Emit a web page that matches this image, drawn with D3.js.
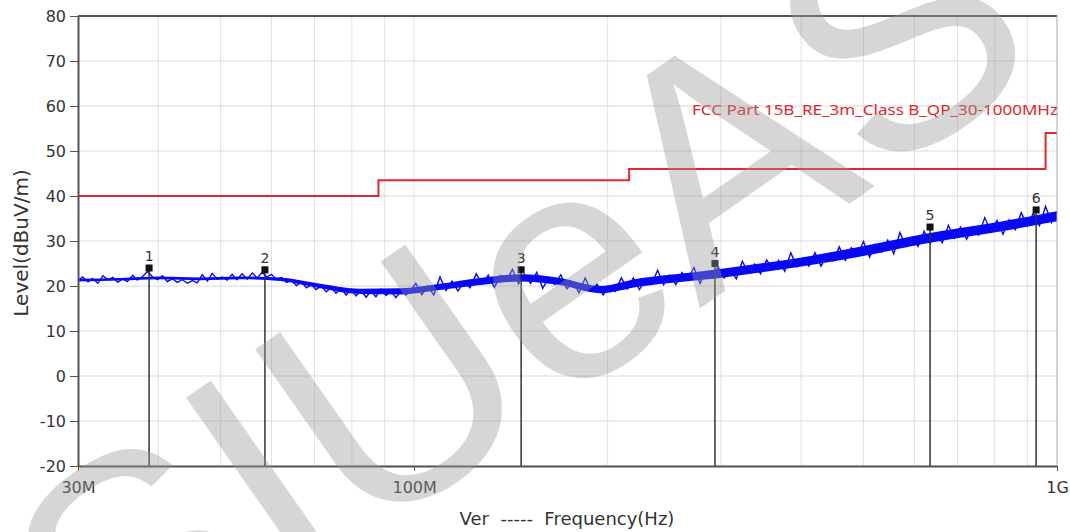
<!DOCTYPE html>
<html>
<head>
<meta charset="utf-8">
<script src="https://cdn.jsdelivr.net/npm/d3@7"></script>
<style>
  body { margin: 0; background: #fff; }
  svg { display: block; }
  text { font-family: "DejaVu Sans", sans-serif; }
</style>
</head>
<body>
<div id="chart"></div>
<script>
const traceFreq = [30, 30.5, 31.1, 31.6, 32.2, 32.8, 33.4, 34, 34.6, 35.2, 35.8, 36.5, 37.1, 37.8, 38.5, 39.2, 39.9, 40.6, 41.3, 42.1,
  42.8, 43.6, 44.4, 45.2, 46, 46.8, 47.7, 48.5, 49.4, 50.3, 51.2, 52.1, 53, 54, 55, 56, 57, 58, 59, 60,
  61.1, 62.2, 63.3, 64.4, 65.6, 66.8, 68, 69.2, 70.4, 71.7, 73, 74.3, 75.6, 77, 78.4, 79.8, 81.2, 82.7, 84.2, 85.7,
  87.2, 88.8, 90.4, 92, 93.7, 95.4, 97.1, 98.8,
  100.6, 102.8, 105, 107.3, 109.7, 112.1, 114.5, 117, 119.6, 122.2, 124.9, 127.6, 130.4, 133.3, 136.2, 139.2, 142.2, 145.3, 148.5, 151.8,
  155.1, 158.5, 162, 165.5, 169.1, 172.8, 176.6, 180.5, 184.5, 188.5, 192.6, 196.8, 201.1, 205.5, 210, 214.6, 219.3, 224.1, 229, 234,
  239.2, 244.4, 249.8, 255.3, 260.9, 266.6, 272.4, 278.4, 284.5, 290.7, 297.1, 303.6, 310.3, 317.1, 324, 331.1, 338.4, 345.8, 353.4, 361.1,
  369, 377.1, 385.4, 393.9, 402.5, 411.3, 420.3, 429.5, 439, 448.6, 458.4, 468.5, 478.8, 489.3, 500, 511, 522.2, 533.7, 545.4, 557.3,
  569.6, 582.1, 594.9, 607.9, 621.3, 634.9, 648.9, 663.1, 677.7, 692.6, 707.8, 723.4, 739.3, 755.5, 772.1, 789.1, 806.5, 824.2, 842.3, 860.9,
  879.8, 899.2, 918.9, 939.2, 959.8, 980.9, 1000];
const traceLevel = [21.2, 22.0, 20.9, 21.7, 20.6, 22.3, 21.4, 21.9, 20.8, 21.6, 21.0, 22.4, 21.3, 22.1, 23.2, 22.0, 21.4, 22.3, 21.0, 21.6,
  20.8, 21.4, 20.6, 21.2, 20.7, 22.5, 21.1, 22.8, 21.5, 22.0, 21.3, 22.6, 21.4, 22.7, 21.5, 22.9, 21.8, 23.0, 22.0, 22.6,
  21.4, 21.9, 20.8, 21.2, 20.1, 20.9, 19.6, 20.3, 19.2, 20.0, 18.7, 19.6, 18.4, 19.5, 18.0, 19.3, 17.8, 19.0, 17.5, 18.9,
  17.6, 19.3, 17.9, 18.8, 17.4, 19.0, 18.0, 19.1,
  20.6, 18.1, 20.0, 18.0, 22.0, 19.0, 21.1, 18.9, 20.9, 19.6, 22.7, 20.4, 22.4, 19.7, 22.3, 21.1, 23.7, 20.5, 22.6, 20.6,
  23.0, 19.5, 21.9, 20.3, 22.5, 19.4, 20.8, 18.5, 21.8, 18.9, 20.4, 18.0, 19.8, 18.8, 21.8, 19.4, 21.8, 19.2, 21.5, 20.4,
  23.5, 20.3, 22.4, 20.3, 23.0, 21.5, 24.1, 20.6, 23.2, 21.7, 24.2, 21.8, 23.7, 21.6, 25.5, 22.9, 24.9, 22.7, 25.8, 23.8,
  25.7, 23.3, 27.4, 24.3, 26.2, 24.4, 27.4, 24.4, 26.9, 25.6, 28.7, 25.7, 28.5, 26.9, 29.9, 26.4, 29.2, 27.5, 30.2, 27.2,
  31.9, 28.8, 30.9, 28.8, 32.2, 29.5, 31.6, 29.6, 33.5, 30.6, 33.1, 30.4, 33.0, 31.3, 35.2, 32.0, 34.6, 31.5, 34.7, 32.5,
  36.3, 33.3, 36.2, 33.4, 37.7, 34.1, 36.5];

// solid body of the dense sweep
const bandFreq = [30, 34.9, 40.2, 46.4, 53.6, 61.9, 71.4, 82.4, 95.1, 109.7, 126.6, 146.1, 168.6, 194.6, 224.6, 259.2, 299.1, 345.2, 398.3, 459.8, 530.6, 612.3, 706.6, 815.6, 941.2, 1000];
const bandLow = [21.0, 21.2, 21.5, 21.3, 21.5, 21.1, 19.5, 18.2, 18.1, 19.1, 20.2, 21.0, 20.2, 18.4, 19.9, 20.9, 21.8, 23.0, 24.3, 25.7, 27.4, 29.2, 30.7, 32.1, 33.7, 34.4];
const bandHigh = [21.6, 21.8, 22.1, 21.9, 22.1, 21.9, 20.5, 19.4, 19.5, 20.5, 21.8, 22.6, 21.8, 20.0, 21.7, 22.7, 23.8, 25.0, 26.3, 27.9, 29.6, 31.4, 32.9, 34.3, 35.9, 36.6];

const markerIds = [1, 2, 3, 4, 5, 6];
const markerFreq = [38.7, 58.6, 146.7, 293.7, 634.6, 928];
const markerLevel = [24.0, 23.6, 23.6, 25.0, 33.1, 36.9];

const limitFreq = [30, 88, 216, 960, 1000];
const limitLevel = [40, 43.5, 46, 54, 54];
const limitName = "FCC Part 15B_RE_3m_Class B_QP_30-1000MHz";

const yTicks = [-20, -10, 0, 10, 20, 30, 40, 50, 60, 70, 80];
const xTicks = [30, 100, 1000];
const xTickLabels = ["30M", "100M", "1G"];
const gridFreq = [40, 50, 60, 70, 80, 90, 100, 200, 300, 400, 500, 600, 700, 800, 900];

const width = 1070;
const height = 532;
const margin = { top: 16, right: 13, bottom: 66, left: 78 };

const svg = d3.select("#chart").append("svg")
  .attr("width", width)
  .attr("height", height);

const x = d3.scaleLog().domain([30, 1000]).range([margin.left, width - margin.right]);
const y = d3.scaleLinear().domain([-20, 80]).range([height - margin.bottom, margin.top]);

// grid
svg.append("g").selectAll("line").data(gridFreq).join("line")
  .attr("x1", (d) => x(d)).attr("x2", (d) => x(d))
  .attr("y1", y(80)).attr("y2", y(-20))
  .attr("stroke", "#e2e2e2").attr("stroke-width", 1);

svg.append("g").selectAll("line").data(yTicks).join("line")
  .attr("x1", x(30)).attr("x2", x(1000))
  .attr("y1", (d) => y(d)).attr("y2", (d) => y(d))
  .attr("stroke", "#d9d9d9").attr("stroke-width", 1);

// limit line
const limitPts = limitFreq.map((f, i) => [f, limitLevel[i]]);
svg.append("path")
  .datum(limitPts)
  .attr("fill", "none")
  .attr("stroke", "#e3262c")
  .attr("stroke-width", 2)
  .attr("d", d3.line().x((d) => x(d[0])).y((d) => y(d[1])).curve(d3.curveStepAfter));

svg.append("text")
  .attr("x", x(1000) + 1)
  .attr("y", 115)
  .attr("text-anchor", "end")
  .attr("fill", "#e3262c")
  .style("font-family", "'Noto Sans', sans-serif")
  .style("font-size", "14px")
  .attr("textLength", 366)
  .attr("lengthAdjust", "spacingAndGlyphs")
  .text(limitName);

// sweep
const band = bandFreq.map((f, i) => ({ f, lo: bandLow[i], hi: bandHigh[i] }));
svg.append("path")
  .datum(band)
  .attr("fill", "#0808f4")
  .attr("d", d3.area().x((d) => x(d.f)).y0((d) => y(d.lo)).y1((d) => y(d.hi)).curve(d3.curveMonotoneX));

const trace = traceFreq.map((f, i) => [f, traceLevel[i]]);
svg.append("path")
  .datum(trace)
  .attr("fill", "none")
  .attr("stroke", "#0808f4")
  .attr("stroke-width", 1.4)
  .attr("d", d3.line().x((d) => x(d[0])).y((d) => y(d[1])));

// markers
const markers = markerIds.map((id, i) => ({ id, f: markerFreq[i], v: markerLevel[i] }));
const mk = svg.append("g").selectAll("g").data(markers).join("g");
mk.append("line")
  .attr("x1", (d) => x(d.f)).attr("x2", (d) => x(d.f))
  .attr("y1", (d) => y(d.v)).attr("y2", y(-20))
  .attr("stroke", "#333").attr("stroke-width", 1.5);
mk.append("rect")
  .attr("x", (d) => x(d.f) - 3.5).attr("y", (d) => y(d.v) - 3.5)
  .attr("width", 7).attr("height", 7)
  .attr("fill", "#111");
mk.append("text")
  .attr("x", (d) => x(d.f)).attr("y", (d) => y(d.v) - 7)
  .attr("text-anchor", "middle")
  .attr("fill", "#333")
  .style("font-size", "14px")
  .text((d) => d.id);

// axes
const yAxis = svg.append("g")
  .attr("transform", `translate(${margin.left},0)`)
  .call(d3.axisLeft(y).tickValues(yTicks).tickFormat((d) => String(d))
    .tickSize(8).tickSizeOuter(0).tickPadding(4));

const xAxis = svg.append("g")
  .attr("transform", `translate(0,${height - margin.bottom})`)
  .call(d3.axisBottom(x).tickValues(xTicks).tickFormat((d, i) => xTickLabels[i])
    .tickSize(5).tickSizeOuter(0).tickPadding(11));

[yAxis, xAxis].forEach((g) => {
  g.select(".domain").attr("stroke", "#555").attr("stroke-width", 2);
  g.selectAll(".tick line").attr("stroke", "#555");
  g.selectAll(".tick text").attr("fill", "#333").style("font-size", "16px")
    .style("font-family", "'DejaVu Sans', sans-serif");
});

svg.append("line")
  .attr("x1", x(30)).attr("x2", x(1000))
  .attr("y1", y(80)).attr("y2", y(80))
  .attr("stroke", "#555").attr("stroke-width", 2);
svg.append("line")
  .attr("x1", x(1000)).attr("x2", x(1000))
  .attr("y1", y(80)).attr("y2", y(-20))
  .attr("stroke", "#aaa").attr("stroke-width", 1);

// titles
svg.append("text")
  .attr("transform", `translate(28,${(y(80) + y(-20)) / 2 + 2}) rotate(-90)`)
  .attr("text-anchor", "middle")
  .attr("fill", "#333")
  .style("font-size", "20px")
  .text("Level(dBuV/m)");

svg.append("text")
  .attr("x", 567)
  .attr("y", 525)
  .attr("text-anchor", "middle")
  .attr("fill", "#333")
  .style("font-size", "18px")
  .attr("xml:space", "preserve")
  .text("Ver  -----  Frequency(Hz)");

// watermark
svg.append("text")
  .attr("transform", "translate(582,391) rotate(-35)")
  .attr("text-anchor", "middle")
  .attr("fill", "#999")
  .attr("fill-opacity", 0.4)
  .style("font-family", "'Liberation Sans', sans-serif")
  .style("font-size", "322px")
  .text("SIUeAS");
</script>
</body>
</html>
